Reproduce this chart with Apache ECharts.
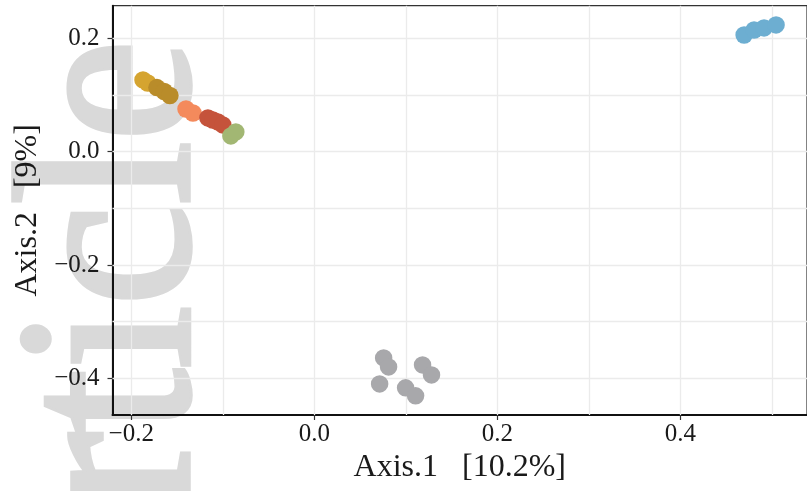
<!DOCTYPE html>
<html>
<head>
<meta charset="utf-8">
<script src="https://cdn.jsdelivr.net/npm/echarts@6/dist/echarts.min.js"></script>
<style>
html,body{margin:0;padding:0;background:#fff;}
#chart{width:807px;height:491px;}
</style>
</head>
<body>
<div id="chart"></div>
<script>
// ---- data ----
const xTickValues = [-0.2, 0.0, 0.2, 0.4];
const yTickValues = [-0.4, -0.2, 0.0, 0.2];
const xGridValues = [-0.2, -0.1, 0.0, 0.1, 0.2, 0.3, 0.4, 0.5];
const yGridValues = [-0.4, -0.3, -0.2, -0.1, 0.0, 0.1, 0.2];
const xAxisTitle = 'Axis.1   [10.2%]';
const yAxisTitle = 'Axis.2   [9%]';
const watermarkText = 'Article';

const goldLightX = [-0.1872, -0.1820];
const goldLightY = [0.1265, 0.1210];
const goldDarkX = [-0.1720, -0.1640, -0.1578];
const goldDarkY = [0.1130, 0.1060, 0.0990];
const orangeX = [-0.1402, -0.1326];
const orangeY = [0.0752, 0.0682];
const redX = [-0.1163, -0.1109, -0.1054, -0.1000];
const redY = [0.0595, 0.0559, 0.0524, 0.0471];
const greenX = [-0.0912, -0.0858];
const greenY = [0.0277, 0.0348];
const blueX = [0.4695, 0.4804, 0.4913, 0.5044];
const blueY = [0.2059, 0.2147, 0.2183, 0.2236];
const grayX = [0.0757, 0.0811, 0.0713, 0.1182, 0.1280, 0.0997, 0.1106];
const grayY = [-0.3640, -0.3799, -0.4099, -0.3764, -0.3940, -0.4169, -0.4310];

const groups = [
  {name: 'gray', x: grayX, y: grayY, color: '#a8a8ab'},
  {name: 'goldLight', x: goldLightX, y: goldLightY, color: '#d5a430'},
  {name: 'goldDark', x: goldDarkX, y: goldDarkY, color: '#b98c2a'},
  {name: 'orange', x: orangeX, y: orangeY, color: '#f48a5c'},
  {name: 'red', x: redX, y: redY, color: '#c5533b'},
  {name: 'green', x: greenX, y: greenY, color: '#a2b773'},
  {name: 'blue', x: blueX, y: blueY, color: '#6daed1'}
];

const serif = '"Liberation Serif", "Times New Roman", serif';
const fmt = v => (v < 0 ? '\u2212' : '') + Math.abs(v).toFixed(1);

const gridLines = xGridValues.map(v => ({xAxis: v})).concat(yGridValues.map(v => ({yAxis: v})));

const series = groups.map(g => ({
  name: g.name,
  type: 'scatter',
  symbolSize: 17.5,
  z: 3,
  itemStyle: {color: g.color, opacity: 1},
  data: g.x.map((xv, i) => [xv, g.y[i]])
}));
series.unshift({
  type: 'scatter',
  data: [],
  silent: true,
  markLine: {
    silent: true,
    z: 1,
    symbol: ['none', 'none'],
    label: {show: false},
    animation: false,
    lineStyle: {color: '#ebebeb', width: 1.3, type: 'solid'},
    emphasis: {disabled: true},
    data: gridLines
  }
});

const chart = echarts.init(document.getElementById('chart'), null, {renderer: 'canvas'});
chart.setOption({
  animation: false,
  backgroundColor: '#ffffff',
  grid: {
    left: 112.5, top: 5.7, width: 695.5, height: 409.3,
    show: true, borderColor: '#333333', borderWidth: 1.2,
    containLabel: false
  },
  graphic: [{
    type: 'text',
    z: -10,
    silent: true,
    x: 122, y: 40,
    rotation: Math.PI / 2,
    scaleY: 1.1,
    style: {
      text: watermarkText,
      font: '228px ' + serif,
      fill: '#d9d9d9',
      stroke: '#d9d9d9',
      lineWidth: 5,
      align: 'right',
      verticalAlign: 'middle'
    }
  }],
  xAxis: {
    type: 'value',
    min: -0.2205, max: 0.5382,
    name: xAxisTitle,
    nameLocation: 'middle',
    nameGap: 37,
    nameTextStyle: {fontFamily: serif, fontSize: 32, color: '#1a1a1a'},
    axisLine: {show: true, onZero: false, lineStyle: {color: '#111', width: 2}},
    axisTick: {show: true, length: 5, customValues: xTickValues, lineStyle: {color: '#333', width: 1.2}},
    axisLabel: {customValues: xTickValues, formatter: fmt, fontFamily: serif, fontSize: 25, color: '#1a1a1a', margin: 7},
    splitLine: {show: false},
    minorSplitLine: {show: false}
  },
  yAxis: {
    type: 'value',
    min: -0.4648, max: 0.2575,
    name: yAxisTitle,
    nameLocation: 'middle',
    nameGap: 61,
    nameTextStyle: {fontFamily: serif, fontSize: 32, color: '#1a1a1a'},
    axisLine: {show: true, onZero: false, lineStyle: {color: '#111', width: 2}},
    axisTick: {show: true, length: 5, customValues: yTickValues, lineStyle: {color: '#333', width: 1.2}},
    axisLabel: {customValues: yTickValues, formatter: fmt, fontFamily: serif, fontSize: 25, color: '#1a1a1a', margin: 13},
    splitLine: {show: false},
    minorSplitLine: {show: false}
  },
  series: series
});
</script>
</body>
</html>
